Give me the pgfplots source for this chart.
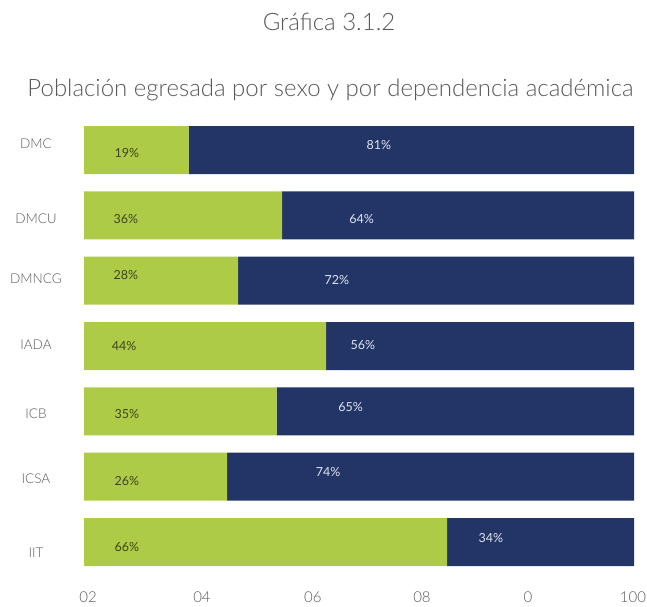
\documentclass[border=0pt]{standalone}
\usepackage{fontspec}
\setmainfont{Lato Light}
\newfontfamily\latoreg{Lato}
\usepackage{pgfplots}
\pgfplotsset{compat=1.18}
\definecolor{cgreen}{RGB}{174,203,71}
\definecolor{cnavy}{RGB}{35,53,102}
\definecolor{cgray}{RGB}{89,89,89}
\definecolor{cgtext}{RGB}{58,70,30}
\definecolor{cwtext}{RGB}{225,228,238}
\tikzset{gl/.style={font=\latoreg\fontsize{12.5}{15}\selectfont, text=cgtext},
         wl/.style={font=\latoreg\fontsize{12.5}{15}\selectfont, text=cwtext}}
\begin{document}
\begin{tikzpicture}
\path[use as bounding box] (0pt,0pt) rectangle (647pt,606pt);
\node[font=\fontsize{24}{28}\selectfont, text=cgray] at (329pt,584pt) {Gráfica 3.1.2};
\node[font=\fontsize{24}{28}\selectfont, text=cgray] at (330.5pt,516pt) {Población egresada por sexo y por dependencia académica};
\begin{axis}[
  at={(84pt,31.3pt)}, anchor=south west,
  scale only axis, width=550pt, height=457.3pt,
  xbar stacked, bar width=48pt,
  xmin=0, xmax=100, ymin=-0.5, ymax=6.5,
  axis line style={draw=none}, major tick length=0pt,
  xtick={0.73,21.45,41.6,61.45,80.7,99.8},
  xticklabels={02,04,06,08,0,100},
  ytick={-0.168,0.97,1.97,3.015,4.03,4.954,6.09},
  yticklabels={IIT,ICSA,ICB,IADA,DMNCG,DMCU,DMC},
  xticklabel style={font=\fontsize{15}{18}\selectfont, text=cgray, yshift=-14pt},
  yticklabel style={font=\fontsize{13.5}{16}\selectfont, text=cgray, anchor=center, xshift=-48pt},
  clip=false,
]
\addplot[fill=cgreen, draw=none] coordinates {(66,0) (26,1) (35,2) (44,3) (28,4) (36,5) (19,6)};
\addplot[fill=cnavy, draw=none] coordinates {(34,0) (74,1) (65,2) (56,3) (72,4) (64,5) (81,6)};
\coordinate (g6) at (axis cs:7.8,5.954);
\coordinate (w6) at (axis cs:53.6,6.077);
\coordinate (g5) at (axis cs:7.6,4.939);
\coordinate (w5) at (axis cs:50.5,4.939);
\coordinate (g4) at (axis cs:7.6,4.092);
\coordinate (w4) at (axis cs:46,4.015);
\coordinate (g3) at (axis cs:7.3,3);
\coordinate (w3) at (axis cs:50.7,3.015);
\coordinate (g2) at (axis cs:7.8,1.954);
\coordinate (w2) at (axis cs:48.5,2.061);
\coordinate (g1) at (axis cs:7.8,0.939);
\coordinate (w1) at (axis cs:44.4,1.077);
\coordinate (g0) at (axis cs:7.8,-0.077);
\coordinate (w0) at (axis cs:74,0.061);
\end{axis}
\node[gl] at (g6) {19\%};
\node[wl] at (w6) {81\%};
\node[gl] at (g5) {36\%};
\node[wl] at (w5) {64\%};
\node[gl] at (g4) {28\%};
\node[wl] at (w4) {72\%};
\node[gl] at (g3) {44\%};
\node[wl] at (w3) {56\%};
\node[gl] at (g2) {35\%};
\node[wl] at (w2) {65\%};
\node[gl] at (g1) {26\%};
\node[wl] at (w1) {74\%};
\node[gl] at (g0) {66\%};
\node[wl] at (w0) {34\%};
\end{tikzpicture}
\end{document}
